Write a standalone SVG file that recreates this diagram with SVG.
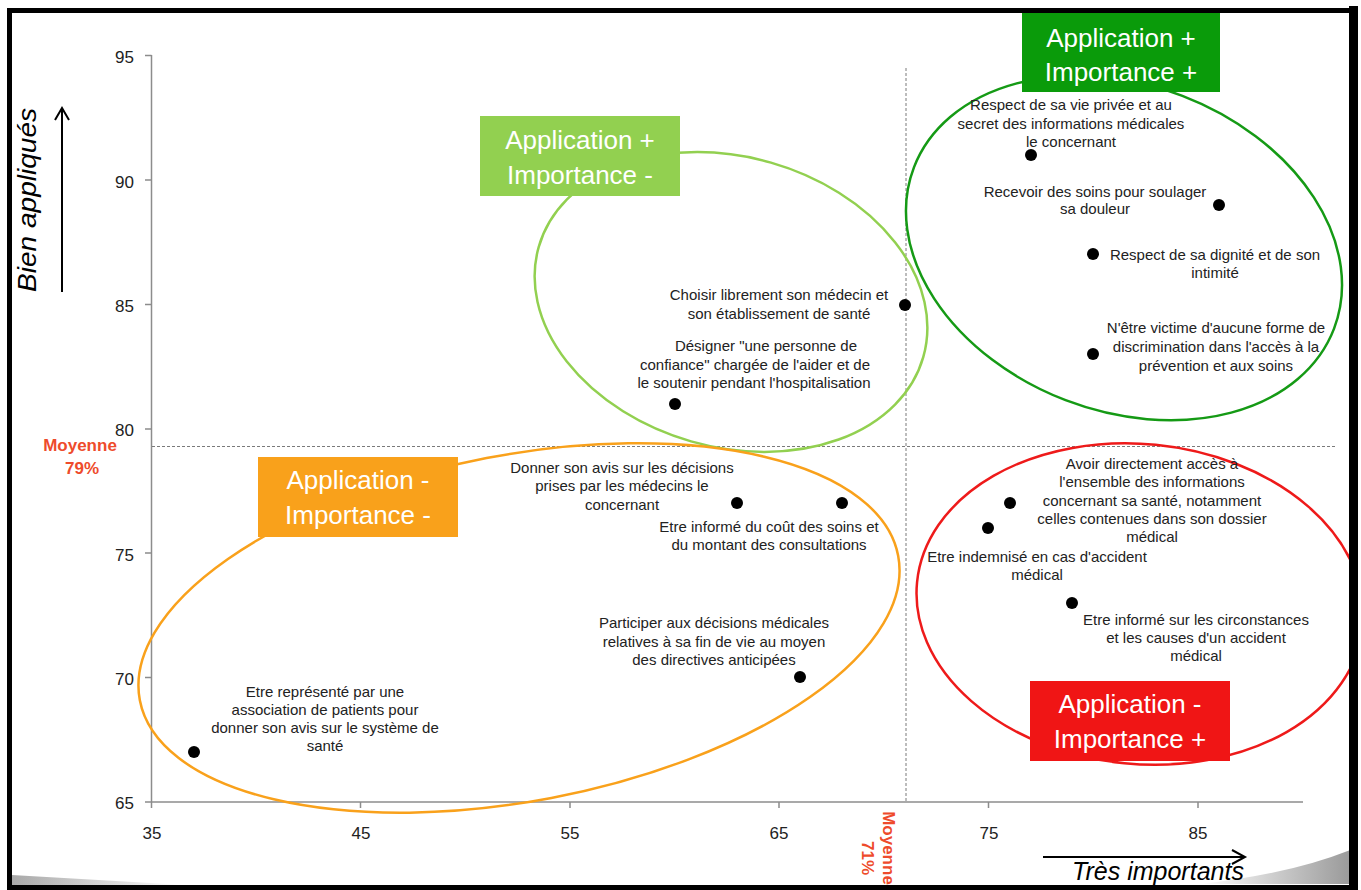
<svg xmlns="http://www.w3.org/2000/svg" width="1361" height="890" viewBox="0 0 1361 890">
<defs>
<style>
.lbl{font-family:"Liberation Sans",Arial,sans-serif;font-size:15px;fill:#222;text-anchor:middle}
.tick{font-family:"Liberation Sans",Arial,sans-serif;font-size:17px;fill:#222}
.box{font-family:"Liberation Sans",Arial,sans-serif;font-size:26px;fill:#fff;text-anchor:middle}
.moy{font-family:"Liberation Sans",Arial,sans-serif;font-size:17px;font-weight:bold;fill:#EE4B2B;text-anchor:middle}
.axis{stroke:#8c8c8c;stroke-width:1.5;fill:none}
.dash{stroke:#7a7a7a;stroke-width:1;stroke-dasharray:3 2;fill:none}
.dot{fill:#000}
.ell{fill:none;stroke-width:2.5}
.arr{stroke:#000;stroke-width:2;fill:none}
</style>
<linearGradient id="gl" x1="0" y1="0" x2="1" y2="0">
<stop offset="0" stop-color="#a8a8a8"/><stop offset="1" stop-color="#ffffff"/>
</linearGradient>
<linearGradient id="gr" x1="0" y1="0" x2="1" y2="0">
<stop offset="0" stop-color="#ffffff"/><stop offset="1" stop-color="#9a9a9a"/>
</linearGradient>
<clipPath id="inner"><rect x="12" y="13" width="1337" height="872"/></clipPath>
</defs>
<rect x="0" y="0" width="1361" height="890" fill="#fff"/>
<g clip-path="url(#inner)">
<path d="M11,875 L185,885 L185,887 L11,887 Z" fill="url(#gl)"/>
<path d="M1200,884 Q1290,874 1350,850 L1350,884 Z" fill="url(#gr)"/>

<g id="axes">
<line class="axis" x1="151.5" y1="55" x2="151.5" y2="802"/>
<line class="axis" x1="151" y1="802" x2="1303" y2="802"/>
<path class="axis" d="M145,55.5H151.5M145,180H151.5M145,304.5H151.5M145,429H151.5M145,553H151.5M145,677.5H151.5M145,802H151.5"/>
<path class="axis" d="M151.5,802V808M360.5,802V808M570,802V808M779,802V808M988.5,802V808M1198,802V808"/>
<g class="tick" text-anchor="end">
<text x="134" y="63">95</text><text x="134" y="187.5">90</text><text x="134" y="312">85</text><text x="134" y="436">80</text><text x="134" y="560.5">75</text><text x="134" y="685">70</text><text x="134" y="809">65</text>
</g>
<g class="tick" text-anchor="middle">
<text x="152" y="839">35</text><text x="361" y="839">45</text><text x="570" y="839">55</text><text x="779" y="839">65</text><text x="989" y="839">75</text><text x="1198" y="839">85</text>
</g>
<line class="dash" x1="906" y1="68" x2="906" y2="802"/>
<line class="dash" x1="152" y1="446.5" x2="1336" y2="446.5"/>
<text class="moy" x="80" y="451">Moyenne</text>
<text class="moy" x="82" y="474">79%</text>
<text class="moy" transform="translate(883,848) rotate(90)">Moyenne</text>
<text class="moy" transform="translate(862,858) rotate(90)">71%</text>
<text transform="translate(36,200) rotate(-90)" text-anchor="middle" font-family="'Liberation Sans',Arial,sans-serif" font-style="italic" font-size="26" fill="#000" textLength="184" lengthAdjust="spacingAndGlyphs">Bien appliqués</text>
<line class="arr" x1="62" y1="292" x2="62" y2="109"/>
<polyline class="arr" points="55,120 62,108 69,120"/>
<line class="arr" x1="1043" y1="857" x2="1244" y2="857"/>
<polyline class="arr" points="1232,850 1245,857 1232,864"/>
<text x="1158" y="880" text-anchor="middle" font-family="'Liberation Sans',Arial,sans-serif" font-style="italic" font-size="25" fill="#000">Très importants</text>
</g>

<g id="ellipses">
<ellipse id="ell-lightgreen" class="ell" stroke="#92D050" cx="731" cy="302" rx="200" ry="145" transform="rotate(16 731 302)"/>
<ellipse id="ell-darkgreen" class="ell" stroke="#159A15" cx="1124" cy="248" rx="225" ry="163" transform="rotate(21 1124 248)"/>
<ellipse id="ell-orange" class="ell" stroke="#F9A11B" cx="519" cy="628" rx="386" ry="173" transform="rotate(-10.8 519 628)"/>
<ellipse id="ell-red" class="ell" stroke="#EE1A1A" cx="1140" cy="604" rx="224" ry="160" transform="rotate(5.6 1140 604)"/>
</g>

<g id="boxes">
<g id="box-app-plus-imp-plus"><rect x="1022" y="13" width="198" height="79" fill="#0A9B0A"/><text class="box" x="1121" y="47">Application +</text><text class="box" x="1121" y="81">Importance +</text></g>
<g id="box-app-plus-imp-minus"><rect x="480" y="116" width="200" height="80" fill="#92D050"/><text class="box" x="580" y="149">Application +</text><text class="box" x="580" y="184">Importance -</text></g>
<g id="box-app-minus-imp-minus"><rect x="258" y="457" width="200" height="80" fill="#F9A11B"/><text class="box" x="358" y="489">Application -</text><text class="box" x="358" y="524">Importance -</text></g>
<g id="box-app-minus-imp-plus"><rect x="1030" y="681" width="200" height="80" fill="#F01515"/><text class="box" x="1130" y="713">Application -</text><text class="box" x="1130" y="748">Importance +</text></g>
</g>

<g id="points">
<g id="p1"><circle class="dot" cx="1031" cy="155" r="6"/><text class="lbl" x="1071" y="110">Respect de sa vie privée et au</text><text class="lbl" x="1071" y="128.5">secret des informations médicales</text><text class="lbl" x="1071" y="147">le concernant</text></g>
<g id="p2"><circle class="dot" cx="1219" cy="205" r="6"/><text class="lbl" x="1095" y="196.5">Recevoir des soins pour soulager</text><text class="lbl" x="1095" y="214">sa douleur</text></g>
<g id="p3"><circle class="dot" cx="1093" cy="254" r="6"/><text class="lbl" x="1215" y="260">Respect de sa dignité et de son</text><text class="lbl" x="1215" y="278">intimité</text></g>
<g id="p4"><circle class="dot" cx="1093" cy="354" r="6"/><text class="lbl" x="1216" y="333">N'être victime d'aucune forme de</text><text class="lbl" x="1216" y="352">discrimination dans l'accès à la</text><text class="lbl" x="1216" y="371">prévention et aux soins</text></g>
<g id="p5"><circle class="dot" cx="905" cy="305" r="6"/><text class="lbl" x="779" y="300">Choisir librement son médecin et</text><text class="lbl" x="779" y="318.5">son établissement de santé</text></g>
<g id="p6"><circle class="dot" cx="675" cy="404" r="6"/><text class="lbl" x="766" y="351">Désigner "une personne de</text><text class="lbl" x="755" y="369.5">confiance" chargée de l'aider et de</text><text class="lbl" x="754" y="388">le soutenir pendant l'hospitalisation</text></g>
<g id="p7"><circle class="dot" cx="737" cy="503" r="6"/><text class="lbl" x="622" y="473">Donner son avis sur les décisions</text><text class="lbl" x="622" y="491">prises par les médecins le</text><text class="lbl" x="622" y="510">concernant</text></g>
<g id="p8"><circle class="dot" cx="842" cy="503" r="6"/><text class="lbl" x="769" y="532">Etre informé du coût des soins et</text><text class="lbl" x="769" y="550">du montant des consultations</text></g>
<g id="p9"><circle class="dot" cx="800" cy="677" r="6"/><text class="lbl" x="714" y="628">Participer aux décisions médicales</text><text class="lbl" x="714" y="647">relatives à sa fin de vie au moyen</text><text class="lbl" x="714" y="665">des directives anticipées</text></g>
<g id="p10"><circle class="dot" cx="194" cy="752" r="6"/><text class="lbl" x="325" y="697">Etre représenté par une</text><text class="lbl" x="325" y="714.5">association de patients pour</text><text class="lbl" x="325" y="733">donner son avis sur le système de</text><text class="lbl" x="325" y="751">santé</text></g>
<g id="p11"><circle class="dot" cx="1010" cy="503" r="6"/><text class="lbl" x="1152" y="469">Avoir directement accès à</text><text class="lbl" x="1152" y="487">l'ensemble des informations</text><text class="lbl" x="1152" y="506">concernant sa santé, notamment</text><text class="lbl" x="1152" y="524">celles contenues dans son dossier</text><text class="lbl" x="1152" y="542">médical</text></g>
<g id="p12"><circle class="dot" cx="988" cy="528" r="6"/><text class="lbl" x="1037" y="562">Etre indemnisé en cas d'accident</text><text class="lbl" x="1037" y="580">médical</text></g>
<g id="p13"><circle class="dot" cx="1072" cy="603" r="6"/><text class="lbl" x="1196" y="625">Etre informé sur les circonstances</text><text class="lbl" x="1196" y="642.5">et les causes d'un accident</text><text class="lbl" x="1196" y="661">médical</text></g>
</g>
</g>

<g id="frame" fill="#000">
<rect x="7" y="8" width="1351" height="5"/>
<rect x="7" y="8" width="5" height="882"/>
<rect x="1349" y="6" width="9" height="884"/>
<rect x="7" y="885" width="1351" height="5"/>
</g>
</svg>
